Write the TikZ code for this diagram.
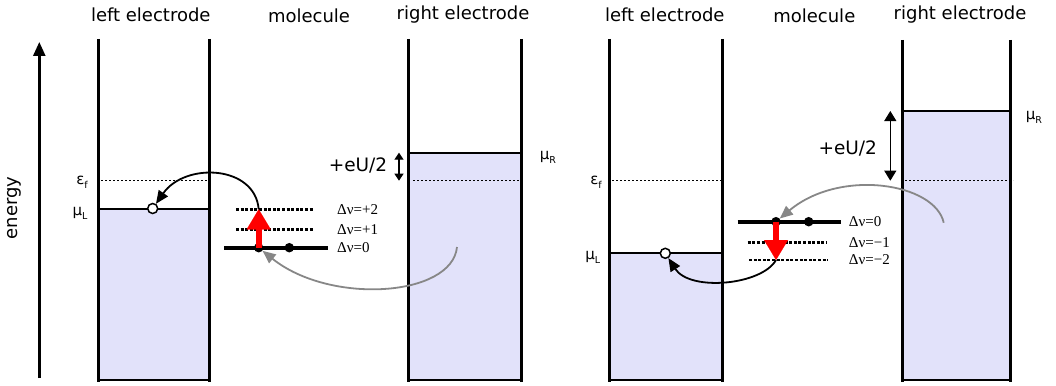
\documentclass[tikz,border=0pt]{standalone}
\usepackage{fontspec}
\setmainfont{DejaVu Sans}
\newfontfamily\serifgr{Liberation Serif}
\usetikzlibrary{arrows.meta}
\definecolor{lav}{RGB}{226,226,250}
\definecolor{arrgray}{RGB}{135,135,135}
\newcommand{\lbl}[2]{#1\raisebox{-4pt}{\fontsize{9.5}{9.5}\selectfont #2}}
\begin{document}
\begin{tikzpicture}[x=1pt,y=-1pt,
  wall/.style={line width=3.2pt},
  fillbox/.style={fill=lav,draw=black,line width=2pt},
  fermi/.style={line width=0.8pt,dash pattern=on 2pt off 2pt},
  level/.style={line width=4pt},
  vib/.style={line width=2.5pt,dash pattern=on 3pt off 1.6pt},
  elec/.style={circle,fill=black,inner sep=0pt,minimum size=9.5pt},
  hole/.style={circle,draw=black,fill=white,line width=1.5pt,inner sep=0pt,minimum size=10pt},
  title/.style={font=\fontsize{18}{20}\selectfont},
  vlab/.style={font=\serifgr\fontsize{15}{17}\selectfont,anchor=west,inner sep=0pt},
  elab/.style={font=\fontsize{15}{17}\selectfont,inner sep=0pt},
  hop/.style={line width=1.8pt,-{Triangle[length=13pt,width=11pt]}},
  hopg/.style={hop,draw=arrgray,-{Triangle[length=13pt,width=11pt,color=arrgray]}},
  exc/.style={red,line width=6pt,-{Triangle[length=20pt,width=24pt,line width=0.1pt]}},
  bias/.style={line width=1.2pt,{Triangle[length=7pt,width=9pt]}-{Triangle[length=7pt,width=9pt]}},
]
\useasboundingbox (0,0) rectangle (1056,385);

% ---------- energy axis ----------
\coordinate (ax0) at (39.3,378);
\coordinate (ax1) at (39.3,42);
\draw[line width=2.5pt,-{Triangle[length=14pt,width=12pt]}] (ax0) -- (ax1);
\node[title,rotate=90] (energy) at (14,208) {energy};

% ================= LEFT PANEL =================
\node[title] (t1) at (150.8,15) {left electrode};
\node[title] (t2) at (309,16) {molecule};
\node[title] (t3) at (463,15) {right electrode};

% left electrode
\draw[fillbox] (98.3,208.5) rectangle (209.3,380);
\draw[wall] (98.3,39) -- (98.3,381.5);
\draw[wall] (209.3,39) -- (209.3,381.5);
\draw[fermi] (101,180.7) -- (209,180.7);
\node[elab] (ef1) at (82,182) {\lbl{ε}{f}};
\node[elab] (muL1) at (80,213) {\lbl{μ}{L}};

% right electrode
\draw[fillbox] (408.7,152.7) rectangle (521.7,380);
\draw[wall] (408.7,39) -- (408.7,381.5);
\draw[wall] (521.7,39) -- (521.7,381.5);
\draw[fermi] (413,180.7) -- (521,180.7);
\node[elab] (muR1) at (548,157) {\lbl{μ}{R}};
\node[font=\fontsize{18.5}{20}\selectfont] (eU1) at (358,165.7) {+eU/2};
\coordinate (b1a) at (399,152.7);
\coordinate (b1b) at (399,180.7);
\draw[bias] (b1a) -- (b1b);

% molecule levels
\draw[vib] (236,209.3) -- (314,209.3);
\draw[vib] (236,229.3) -- (314,229.3);
\draw[level] (224,247.7) -- (328,247.7);
\node[vlab] (l12) at (337,209.3) {Δν=+2};
\node[vlab] (l11) at (337,229.3) {Δν=+1};
\node[vlab] (l10) at (337,247.7) {Δν=0};
\node[elec] (e1) at (258.7,247.7) {};
\node[elec] (e2) at (289.3,247.7) {};
\coordinate (x1) at (258.7,209.3);
\node[hole] (h1) at (152.7,208.5) {};
\coordinate (s1) at (457,247);

\draw[exc] (e1.center) -- (x1);
\draw[hop] (x1) .. controls (255,165) and (185,162) .. (h1);
\draw[hopg] (s1) .. controls (452,297) and (330,305) .. (e1);

% ================= RIGHT PANEL =================
\node[title] (t4) at (664.8,15) {left electrode};
\node[title] (t5) at (814.3,16) {molecule};
\node[title] (t6) at (960,15) {right electrode};

% left electrode
\draw[fillbox] (609.3,253.3) rectangle (722.7,380);
\draw[wall] (609.3,39) -- (609.3,381.5);
\draw[wall] (722.7,39) -- (722.7,381.5);
\draw[fermi] (612,180.7) -- (722,180.7);
\node[elab] (ef2) at (596,182) {\lbl{ε}{f}};
\node[elab] (muL2) at (592.7,257) {\lbl{μ}{L}};

% right electrode
\draw[fillbox] (902.7,111) rectangle (1010.3,380);
\draw[wall] (902.7,40) -- (902.7,381.5);
\draw[wall] (1010.3,40) -- (1010.3,381.5);
\draw[fermi] (905,180.7) -- (1013,180.7);
\node[elab] (muR2) at (1034,117) {\lbl{μ}{R}};
\node[font=\fontsize{18.5}{20}\selectfont] (eU2) at (847.7,148.3) {+eU/2};
\coordinate (b2a) at (890.3,111);
\coordinate (b2b) at (890.3,180.7);
\draw[line width=1pt,{Triangle[length=10pt,width=12pt]}-{Triangle[length=10pt,width=12pt]}] (b2a) -- (b2b);

% molecule levels
\draw[level] (737.7,221.7) -- (841,221.7);
\draw[vib] (747.7,242.3) -- (826.7,242.3);
\draw[vib] (749,260) -- (828,260);
\node[vlab] (l20) at (848.7,221.7) {Δν=0};
\node[vlab] (l21) at (848.7,242.3) {Δν=−1};
\node[vlab] (l22) at (848.7,260) {Δν=−2};
\node[elec] (e3) at (776,221.7) {};
\node[elec] (e4) at (808.7,221.7) {};
\coordinate (x2) at (776,260);
\node[hole] (h2) at (665.3,253.3) {};
\coordinate (s2) at (943.7,222.7);

\draw[exc] (e3.center) -- (x2);
\draw[hop] (x2) .. controls (762,285) and (690,292) .. (h2);
\draw[hopg] (s2) .. controls (935,183) and (840,168) .. (e3);
\end{tikzpicture}
\end{document}
